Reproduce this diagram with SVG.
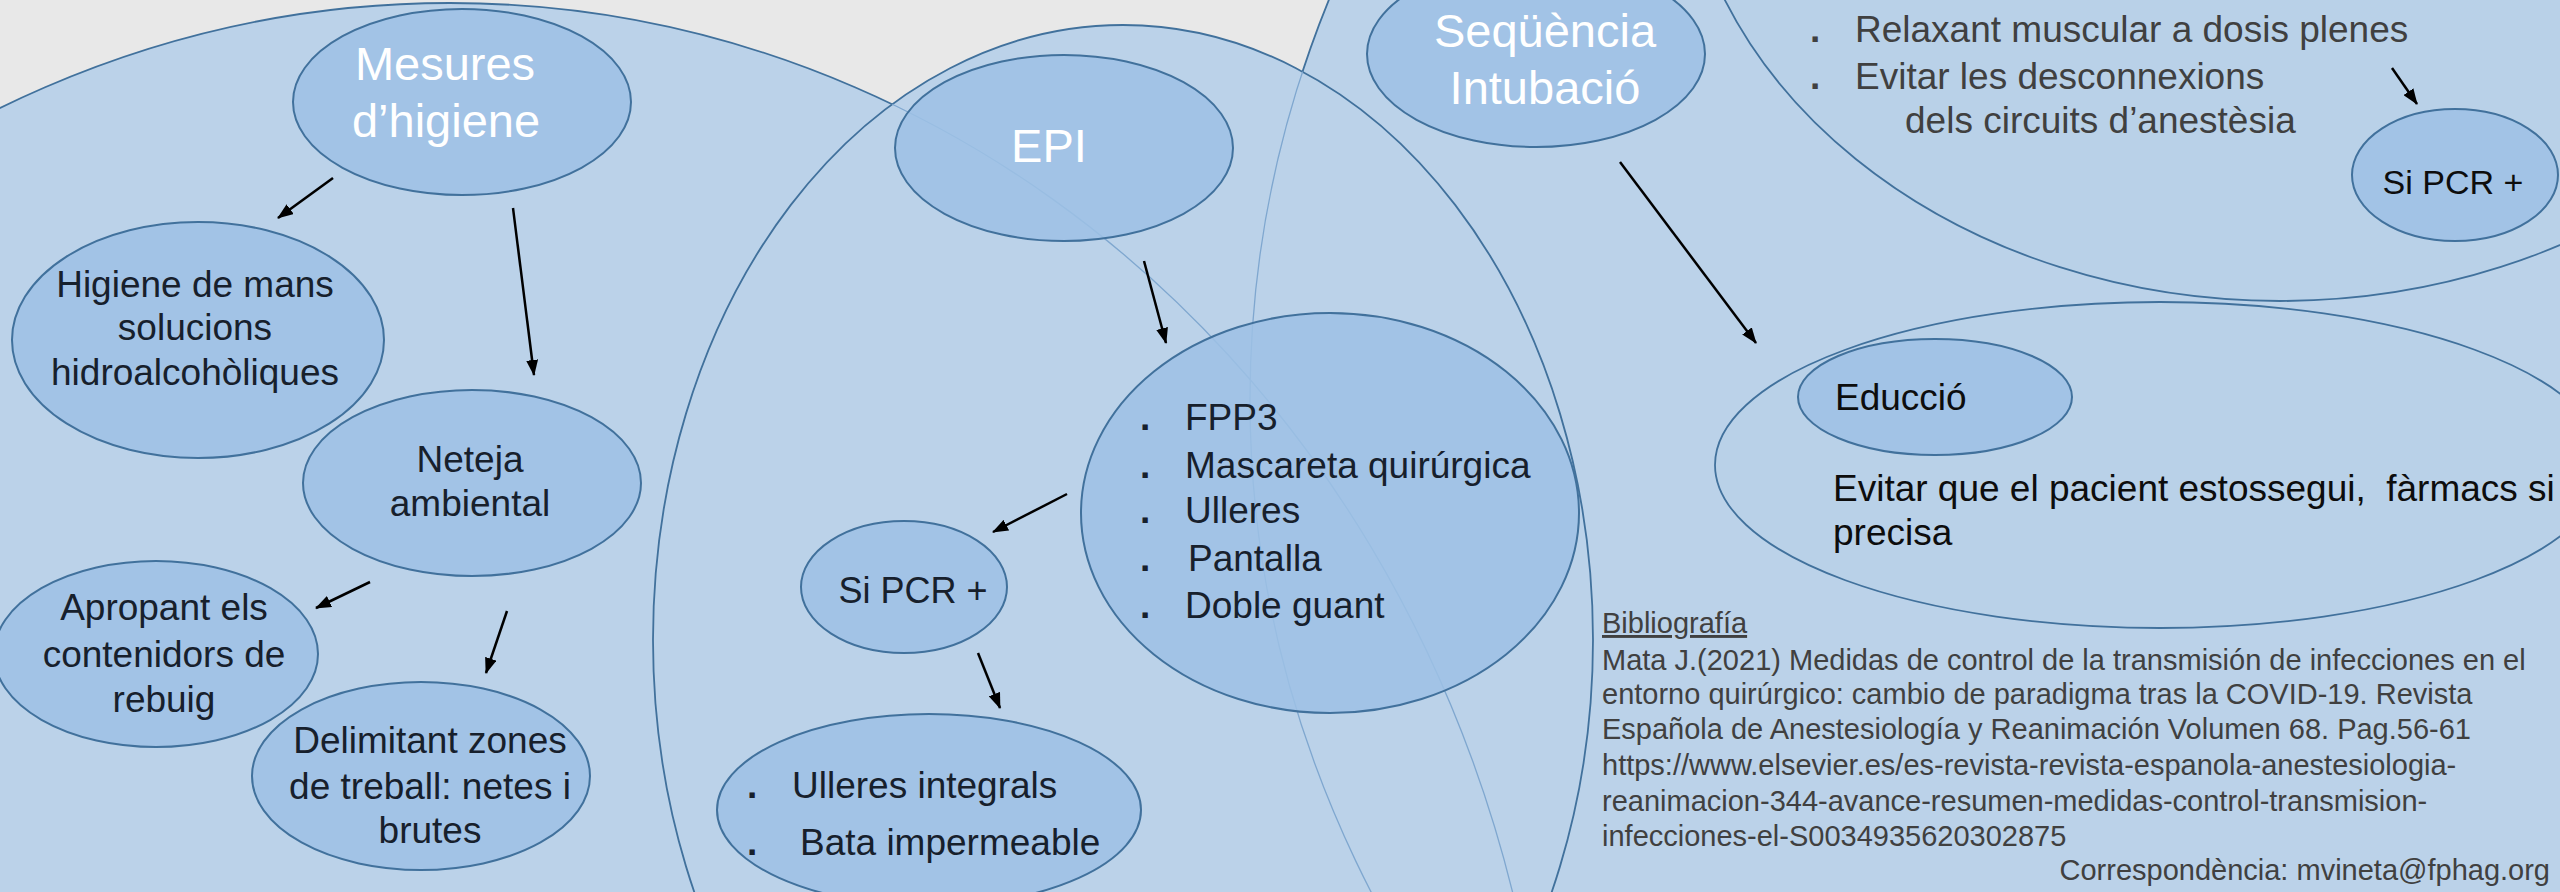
<svg xmlns="http://www.w3.org/2000/svg" width="2560" height="892" viewBox="0 0 2560 892">
<defs>
<style>
.big{fill:#bbd2e9;stroke:#41719c;stroke-width:1.8}
.soft{fill:#b8cfe7;fill-opacity:0.5;stroke:#41719c;stroke-width:1.8}
.faint{fill:none;stroke:#7fa7cf;stroke-width:1.3}
.node{fill:#9dc1e5;fill-opacity:0.85;stroke:#41719c;stroke-width:2}
text{font-family:"Liberation Sans",Arial,Helvetica,sans-serif}
.w{fill:#ffffff;font-size:47px;text-anchor:middle}
.d{fill:#17202c;font-size:37px}
.c{text-anchor:middle}
.g{fill:#404040;font-size:37px}
.k{fill:#0d0d0d;font-size:37px}
.b{font-weight:bold}
.bib{fill:#404040;font-size:29px}
.conn line{stroke:#000000;stroke-width:2.5}
</style>
<marker id="ah" viewBox="0 0 16 12" refX="15" refY="6" markerWidth="16" markerHeight="12" markerUnits="userSpaceOnUse" orient="auto"><path d="M0,0 L16,6 L0,12 z" fill="#000000"/></marker>
<clipPath id="clipB"><ellipse cx="1123" cy="640" rx="470" ry="615"/></clipPath>
</defs>

<rect x="0" y="0" width="2560" height="892" fill="#e8e8e8"/>

<g id="group-higiene"><ellipse class="big" cx="450" cy="1203" rx="1100" ry="1200"/></g>
<g id="group-sequencia"><ellipse class="big" cx="2750" cy="400" rx="1500" ry="1250"/></g>
<g id="group-epi"><ellipse class="big" cx="1123" cy="640" rx="470" ry="615"/></g>
<g id="faint-edges" clip-path="url(#clipB)">
<ellipse class="faint" cx="450" cy="1203" rx="1100" ry="1200"/>
<ellipse class="faint" cx="2750" cy="400" rx="1500" ry="1250"/>
</g>
<g id="group-relaxant"><ellipse class="soft" cx="2280" cy="-184" rx="600" ry="485"/></g>
<g id="group-educcio"><ellipse class="soft" cx="2160" cy="465" rx="445" ry="163"/></g>

<g id="node-mesures"><ellipse class="node" cx="462" cy="102" rx="169" ry="93"/>
<text class="w" x="445" y="80">Mesures</text><text class="w" x="446" y="137">d’higiene</text></g>

<g id="node-higiene-mans"><ellipse class="node" cx="198" cy="340" rx="186" ry="118"/>
<text class="d c" x="195" y="297">Higiene de mans</text>
<text class="d c" x="195" y="340">solucions</text>
<text class="d c" x="195" y="385">hidroalcohòliques</text></g>

<g id="node-neteja"><ellipse class="node" cx="472" cy="483" rx="169" ry="93"/>
<text class="d c" x="470" y="472">Neteja</text>
<text class="d c" x="470" y="516">ambiental</text></g>

<g id="node-apropant"><ellipse class="node" cx="156" cy="654" rx="162" ry="93"/>
<text class="d c" x="164" y="620">Apropant els</text>
<text class="d c" x="164" y="667">contenidors de</text>
<text class="d c" x="164" y="712">rebuig</text></g>

<g id="node-delimitant"><ellipse class="node" cx="421" cy="776" rx="169" ry="94"/>
<text class="d c" x="430" y="753">Delimitant zones</text>
<text class="d c" x="430" y="799">de treball: netes i</text>
<text class="d c" x="430" y="843">brutes</text></g>

<g id="node-epi"><ellipse class="node" cx="1064" cy="148" rx="169" ry="93"/>
<text class="w" x="1049" y="162">EPI</text></g>

<g id="node-fpp"><ellipse class="node" cx="1330" cy="513" rx="249" ry="200"/>
<text class="d b" x="1140" y="430">.</text><text class="d" x="1185" y="430">FPP3</text>
<text class="d b" x="1140" y="478">.</text><text class="d" x="1185" y="478">Mascareta quirúrgica</text>
<text class="d b" x="1140" y="523">.</text><text class="d" x="1185" y="523">Ulleres</text>
<text class="d b" x="1140" y="571">.</text><text class="d" x="1188" y="571">Pantalla</text>
<text class="d b" x="1140" y="618">.</text><text class="d" x="1185" y="618">Doble guant</text></g>

<g id="node-sipcr-1"><ellipse class="node" cx="904" cy="587" rx="103" ry="66"/>
<text class="d c" x="913" y="603" style="font-size:36px">Si PCR +</text></g>

<g id="node-ulleres"><ellipse class="node" cx="929" cy="810" rx="212" ry="96"/>
<text class="d b" x="747" y="798">.</text><text class="d" x="792" y="798">Ulleres integrals</text>
<text class="d b" x="747" y="855">.</text><text class="d" x="800" y="855">Bata impermeable</text></g>

<g id="node-sequencia"><ellipse class="node" cx="1536" cy="54" rx="169" ry="93"/>
<text class="w" x="1545" y="47">Seqüència</text><text class="w" x="1545" y="104">Intubació</text></g>

<g id="text-relaxant">
<text class="g b" x="1810" y="42">.</text><text class="g" x="1855" y="42">Relaxant muscular a dosis plenes</text>
<text class="g b" x="1810" y="89">.</text><text class="g" x="1855" y="89">Evitar les desconnexions</text>
<text class="g" x="1905" y="133">dels circuits d’anestèsia</text></g>

<g id="node-sipcr-2"><ellipse class="node" cx="2455" cy="175" rx="103" ry="66"/>
<text class="k c" x="2453" y="194" style="font-size:34px">Si PCR +</text></g>

<g id="node-educcio"><ellipse class="node" cx="1935" cy="397" rx="137" ry="58"/>
<text class="k" x="1835" y="410">Educció</text></g>

<g id="text-educcio">
<text class="k" x="1833" y="501" style="white-space:pre">Evitar que el pacient estossegui,  fàrmacs si</text>
<text class="k" x="1833" y="545">precisa</text></g>

<g id="bibliografia">
<text class="bib" x="1602" y="633" text-decoration="underline">Bibliografía</text>
<text class="bib" x="1602" y="670">Mata J.(2021) Medidas de control de la transmisión de infecciones en el</text>
<text class="bib" x="1602" y="704">entorno quirúrgico: cambio de paradigma tras la COVID-19. Revista</text>
<text class="bib" x="1602" y="739">Española de Anestesiología y Reanimación Volumen 68. Pag.56-61</text>
<text class="bib" x="1602" y="775">https://www.elsevier.es/es-revista-revista-espanola-anestesiologia-</text>
<text class="bib" x="1602" y="811">reanimacion-344-avance-resumen-medidas-control-transmision-</text>
<text class="bib" x="1602" y="846">infecciones-el-S0034935620302875</text>
<text class="bib" x="2550" y="880" text-anchor="end">Correspondència: mvineta@fphag.org</text></g>

<g id="connectors" class="conn">
<line x1="333" y1="178" x2="278" y2="218" marker-end="url(#ah)"/>
<line x1="513" y1="208" x2="534" y2="375" marker-end="url(#ah)"/>
<line x1="370" y1="582" x2="316" y2="608" marker-end="url(#ah)"/>
<line x1="507" y1="611" x2="486" y2="673" marker-end="url(#ah)"/>
<line x1="1144" y1="261" x2="1166" y2="343" marker-end="url(#ah)"/>
<line x1="1067" y1="494" x2="993" y2="532" marker-end="url(#ah)"/>
<line x1="978" y1="653" x2="1000" y2="708" marker-end="url(#ah)"/>
<line x1="1620" y1="162" x2="1756" y2="343" marker-end="url(#ah)"/>
<line x1="2392" y1="68" x2="2417" y2="104" marker-end="url(#ah)"/>
</g>
</svg>
